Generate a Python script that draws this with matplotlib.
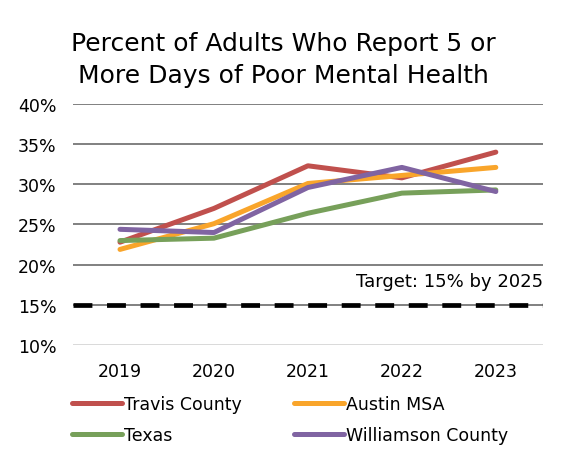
import matplotlib
matplotlib.use("Agg")
import matplotlib.pyplot as plt
import matplotlib.ticker as ticker
import numpy as np

# ---------------------------------------------------------------------------
# Data
# ---------------------------------------------------------------------------
years = ["2019", "2020", "2021", "2022", "2023"]
travis = [22.8, 27.0, 32.3, 30.8, 34.0]
austin_msa = [21.9, 25.1, 30.1, 31.1, 32.1]
texas = [23.0, 23.3, 26.4, 28.9, 29.3]
williamson = [24.4, 24.0, 29.6, 32.1, 29.1]
target = 15
y_ticks = [10, 15, 20, 25, 30, 35, 40]

SERIES = [
    ("Travis County", travis, "#C0504D"),
    ("Austin MSA", austin_msa, "#F9A52B"),
    ("Texas", texas, "#77A05A"),
    ("Williamson County", williamson, "#8064A2"),
]

plt.rcParams["font.family"] = ["DejaVu Sans"]

fig = plt.figure(figsize=(5.66, 4.56), dpi=100)
ax = fig.add_axes([0.129, 0.241, 0.830, 0.529])

x = np.arange(len(years))

# gridlines
for t in y_ticks:
    col = "#D9D9D9" if t == 10 else "#808080"
    ax.axhline(t, color=col, linewidth=1.4, zorder=1)

# target line
ax.axhline(target, color="black", linewidth=3.4, dashes=(4, 3.1), zorder=2)

handles = []
for label, vals, color in SERIES:
    (h,) = ax.plot(x, vals, color=color, linewidth=3.6, label=label,
                   solid_capstyle="round", zorder=3)
    handles.append(h)

ax.set_xlim(-0.5, len(years) - 0.5)
ax.set_ylim(10, 40)
ax.set_yticks(y_ticks)
ax.yaxis.set_major_formatter(ticker.FuncFormatter(lambda v, _: f"{v:.0f}%"))
ax.set_xticks(x)
ax.set_xticklabels(years)
ax.tick_params(axis="both", length=0, labelsize=12.5)
ax.tick_params(axis="x", pad=12)
ax.tick_params(axis="y", pad=12)
for s in ax.spines.values():
    s.set_visible(False)

ax.text(len(years) - 0.5, 16.8, "Target: 15% by 2025", ha="right", va="bottom",
        fontsize=13)

fig.text(0.5, 0.868, "Percent of Adults Who Report 5 or\nMore Days of Poor Mental Health",
         ha="center", va="center", fontsize=18, linespacing=1.4)

# legend order: Travis, Austin / Texas, Williamson (row-wise)
order = [0, 2, 1, 3]
fig.legend([handles[i] for i in order], [SERIES[i][0] for i in order],
           ncol=2, loc="upper left", bbox_to_anchor=(0.115, 0.147),
           frameon=False, fontsize=12.5, handlelength=2.9, handletextpad=0.1,
           columnspacing=3.0, labelspacing=0.75, borderaxespad=0)

fig.savefig("out.png", dpi=100)
